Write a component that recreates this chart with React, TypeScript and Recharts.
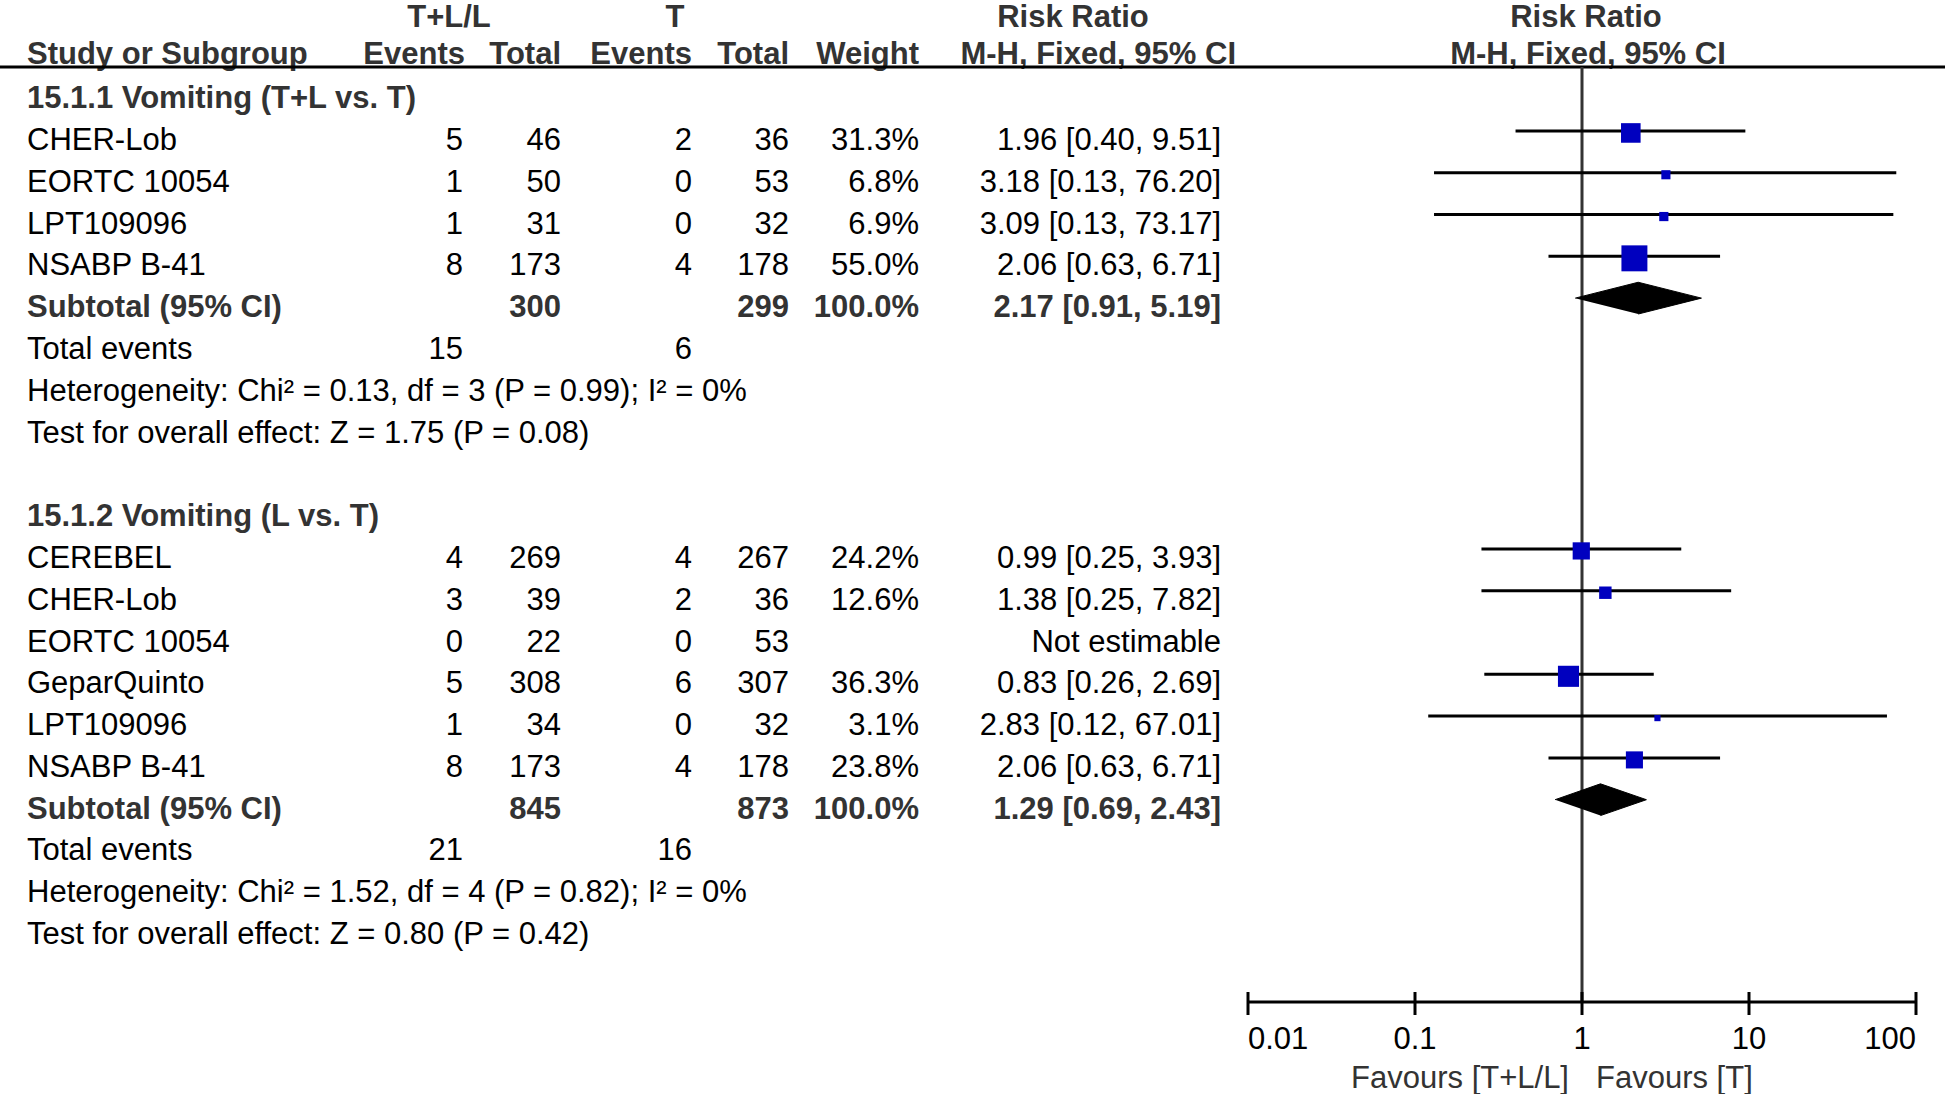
import { ComposedChart, Customized, ReferenceLine, Scatter, XAxis, YAxis } from "recharts";

const FONT = '"Liberation Sans", Arial, Helvetica, sans-serif';

// ---- data ----
const groupTitles = ["15.1.1 Vomiting (T+L vs. T)", "15.1.2 Vomiting (L vs. T)"];

const studies1 = ["CHER-Lob", "EORTC 10054", "LPT109096", "NSABP B-41"];
const eventsTL1 = [5, 1, 1, 8];
const totalTL1 = [46, 50, 31, 173];
const eventsT1 = [2, 0, 0, 4];
const totalT1 = [36, 53, 32, 178];
const weight1 = [31.3, 6.8, 6.9, 55.0];
const rr1 = [1.96, 3.18, 3.09, 2.06];
const lower1 = [0.4, 0.13, 0.13, 0.63];
const upper1 = [9.51, 76.2, 73.17, 6.71];

const studies2 = ["CEREBEL", "CHER-Lob", "EORTC 10054", "GeparQuinto", "LPT109096", "NSABP B-41"];
const eventsTL2 = [4, 3, 0, 5, 1, 8];
const totalTL2 = [269, 39, 22, 308, 34, 173];
const eventsT2 = [4, 2, 0, 6, 0, 4];
const totalT2 = [267, 36, 53, 307, 32, 178];
const weight2 = [24.2, 12.6, null, 36.3, 3.1, 23.8];
const rr2 = [0.99, 1.38, null, 0.83, 2.83, 2.06];
const lower2 = [0.25, 0.25, null, 0.26, 0.12, 0.63];
const upper2 = [3.93, 7.82, null, 2.69, 67.01, 6.71];

const subTotalTL = [300, 845];
const subTotalT = [299, 873];
const subWeight = [100.0, 100.0];
const subRR = [2.17, 1.29];
const subLower = [0.91, 0.69];
const subUpper = [5.19, 2.43];
const totalEventsTL = [15, 21];
const totalEventsT = [6, 16];
const heterogeneity = [
  "Heterogeneity: Chi² = 0.13, df = 3 (P = 0.99); I² = 0%",
  "Heterogeneity: Chi² = 1.52, df = 4 (P = 0.82); I² = 0%",
];
const overallEffect = [
  "Test for overall effect: Z = 1.75 (P = 0.08)",
  "Test for overall effect: Z = 0.80 (P = 0.42)",
];

const axisTicks = [0.01, 0.1, 1, 10, 100];

// ---- layout ----
const NAME_X = 27;
const COL_RIGHT = [463, 561, 692, 789, 919, 1221];
const DIAMOND_HALF = 0.38;
const MARGIN = { top: 67, right: 29, bottom: 32, left: 1248 };

const groups = [
  {
    names: studies1, eTL: eventsTL1, nTL: totalTL1, eT: eventsT1, nT: totalT1,
    weight: weight1, rr: rr1, lo: lower1, hi: upper1,
  },
  {
    names: studies2, eTL: eventsTL2, nTL: totalTL2, eT: eventsT2, nT: totalT2,
    weight: weight2, rr: rr2, lo: lower2, hi: upper2,
  },
];

const f2 = (v: number) => v.toFixed(2);
const ciText = (rr: number | null, lo: number | null, hi: number | null) =>
  rr == null || lo == null || hi == null ? "Not estimable" : `${f2(rr)} [${f2(lo)}, ${f2(hi)}]`;

type TextRow = { x: number; y: number; kind: string; label: string; cells: string[] };

const textRows: TextRow[] = [];
const squares: { x: number; y: number; w: number }[] = [];
const ciLines: { lo: number; hi: number; y: number }[] = [];
const diamonds: { x: number; y: number }[][] = [];

let row = 1;
groups.forEach((g, gi) => {
  if (gi > 0) row += 1;
  textRows.push({ x: 1, y: row, kind: "title", label: groupTitles[gi], cells: [] });
  row++;
  g.names.forEach((name, i) => {
    const w = g.weight[i];
    const rr = g.rr[i];
    const lo = g.lo[i];
    const hi = g.hi[i];
    textRows.push({
      x: 1,
      y: row,
      kind: "study",
      label: name,
      cells: [
        String(g.eTL[i]),
        String(g.nTL[i]),
        String(g.eT[i]),
        String(g.nT[i]),
        w == null ? "" : `${w.toFixed(1)}%`,
        ciText(rr, lo, hi),
      ],
    });
    if (w != null && rr != null && lo != null && hi != null) {
      squares.push({ x: rr, y: row, w });
      ciLines.push({ lo, hi, y: row });
    }
    row++;
  });
  textRows.push({
    x: 1,
    y: row,
    kind: "subtotal",
    label: "Subtotal (95% CI)",
    cells: ["", String(subTotalTL[gi]), "", String(subTotalT[gi]), `${subWeight[gi].toFixed(1)}%`, ciText(subRR[gi], subLower[gi], subUpper[gi])],
  });
  diamonds.push([
    { x: subLower[gi], y: row },
    { x: subRR[gi], y: row - DIAMOND_HALF },
    { x: subUpper[gi], y: row },
    { x: subRR[gi], y: row + DIAMOND_HALF },
  ]);
  row++;
  textRows.push({ x: 1, y: row, kind: "events", label: "Total events", cells: [String(totalEventsTL[gi]), "", String(totalEventsT[gi]), "", "", ""] });
  row++;
  textRows.push({ x: 1, y: row, kind: "note", label: heterogeneity[gi], cells: [] });
  row++;
  textRows.push({ x: 1, y: row, kind: "note", label: overallEffect[gi], cells: [] });
  row++;
});

function RowText(props: any) {
  const { cy, payload } = props;
  const bold = payload.kind === "title" || payload.kind === "subtotal";
  const base = cy + 19;
  return (
    <g fontFamily={FONT} fontSize={31} fontWeight={bold ? 700 : 400} fill={bold ? "#333" : "#000"}>
      <text x={NAME_X} y={base}>{payload.label}</text>
      {payload.cells.map((c: string, i: number) =>
        c ? (
          <text key={i} x={COL_RIGHT[i]} y={base} textAnchor="end">
            {c}
          </text>
        ) : null
      )}
    </g>
  );
}

function Square(props: any) {
  const { cx, cy, payload } = props;
  const s = 3.5 * Math.sqrt(payload.w);
  return <rect x={cx - s / 2} y={cy - s / 2 + 2} width={s} height={s} fill="#0000bf" />;
}

const NoShape = () => <g />;

function AxisTick(props: any) {
  const { x, y, payload } = props;
  const v = payload.value;
  const anchor = v === axisTicks[0] ? "start" : v === axisTicks[axisTicks.length - 1] ? "end" : "middle";
  return (
    <g>
      <line x1={x} x2={x} y1={y - 10} y2={y + 13} stroke="#000" strokeWidth={3} />
      <text x={x} y={y + 47} textAnchor={anchor} fontFamily={FONT} fontSize={31} fill="#000">
        {String(v)}
      </text>
    </g>
  );
}

function Header() {
  const h1 = 27;
  const h2 = 64;
  return (
    <g fontFamily={FONT} fontSize={31}>
      <g fontWeight={700} fill="#333">
        <text x={449} y={h1} textAnchor="middle">T+L/L</text>
        <text x={675} y={h1} textAnchor="middle">T</text>
        <text x={1073} y={h1} textAnchor="middle">Risk Ratio</text>
        <text x={1586} y={h1} textAnchor="middle">Risk Ratio</text>
        <text x={NAME_X} y={h2}>Study or Subgroup</text>
        <text x={465} y={h2} textAnchor="end">Events</text>
        <text x={561} y={h2} textAnchor="end">Total</text>
        <text x={692} y={h2} textAnchor="end">Events</text>
        <text x={789} y={h2} textAnchor="end">Total</text>
        <text x={919} y={h2} textAnchor="end">Weight</text>
        <text x={1236} y={h2} textAnchor="end">M-H, Fixed, 95% CI</text>
        <text x={1588} y={h2} textAnchor="middle">M-H, Fixed, 95% CI</text>
      </g>
      <line x1={0} x2={1945} y1={MARGIN.top} y2={MARGIN.top} stroke="#000" strokeWidth={3} />
      <g fill="#333">
        <text x={1569} y={1088} textAnchor="end">Favours [T+L/L]</text>
        <text x={1596} y={1088}>Favours [T]</text>
      </g>
    </g>
  );
}

export default function App() {
  return (
    <div style={{ width: 1945, height: 1094, background: "#fff" }}>
      <style>{"body{margin:0}"}</style>
      <ComposedChart width={1945} height={1094} margin={MARGIN}>
        <XAxis
          dataKey="x"
          type="number"
          scale="log"
          domain={[0.01, 100]}
          ticks={axisTicks}
          interval={0}
          height={60}
          tickSize={0}
          tickMargin={0}
          tickLine={false}
          axisLine={{ stroke: "#000", strokeWidth: 3 }}
          tick={<AxisTick />}
        />
        <YAxis dataKey="y" type="number" domain={[0.47, 22.84]} reversed hide width={0} />
        <ReferenceLine x={1} stroke="#333" strokeWidth={3} />
        {ciLines.map((c, i) => (
          <ReferenceLine
            key={i}
            segment={[
              { x: c.lo, y: c.y },
              { x: c.hi, y: c.y },
            ]}
            stroke="#000"
            strokeWidth={3}
          />
        ))}
        <Scatter data={textRows} shape={RowText} isAnimationActive={false} />
        <Scatter data={squares} shape={Square} isAnimationActive={false} />
        {diamonds.map((d, i) => (
          <Scatter
            key={i}
            data={d}
            shape={NoShape}
            line={{ fill: "#000", stroke: "#000", strokeWidth: 1 }}
            lineJointType="linear"
            isAnimationActive={false}
          />
        ))}
        <Customized component={Header} />
      </ComposedChart>
    </div>
  );
}
